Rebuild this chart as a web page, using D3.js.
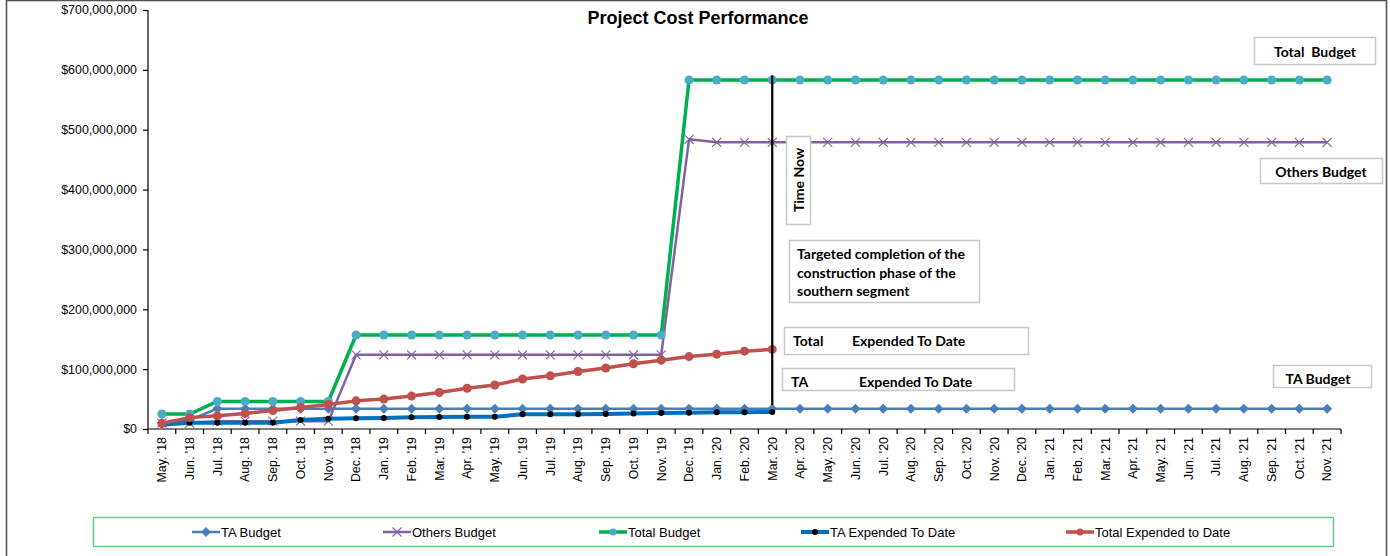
<!DOCTYPE html>
<html>
<head>
<meta charset="utf-8">
<script src="https://cdn.jsdelivr.net/npm/d3@7"></script>
<style>
  body { margin: 0; background: #fff; }
  svg { display: block; }
  .axis text { font-family: Arial, "Liberation Sans", sans-serif; font-size: 12.4px; fill: #000; }
  .note { font-family: Lato, "Open Sans", sans-serif; font-size: 14px; font-weight: 700; fill: #000; white-space: pre; }
</style>
</head>
<body>
<div id="chart"></div>
<script>
// month categories
const months = [
  "May. '18", "Jun. '18", "Jul. '18", "Aug. '18", "Sep. '18", "Oct. '18", "Nov. '18", "Dec. '18",
  "Jan. '19", "Feb. '19", "Mar. '19", "Apr. '19", "May. '19", "Jun. '19", "Jul. '19", "Aug. '19",
  "Sep. '19", "Oct. '19", "Nov. '19", "Dec. '19",
  "Jan. '20", "Feb. '20", "Mar. '20", "Apr. '20", "May. '20", "Jun. '20", "Jul. '20", "Aug. '20",
  "Sep. '20", "Oct. '20", "Nov. '20", "Dec. '20",
  "Jan. '21", "Feb. '21", "Mar. '21", "Apr. '21", "May. '21", "Jun. '21", "Jul. '21", "Aug. '21",
  "Sep. '21", "Oct. '21", "Nov. '21"
];

// values in millions of dollars
const taBudget = [10, 15, 34, 34, 34, 34, 34, 34, 34, 34, 34, 34, 34, 34, 34, 34, 34, 34, 34, 34,
  34, 34, 34, 34, 34, 34, 34, 34, 34, 34, 34, 34, 34, 34, 34, 34, 34, 34, 34, 34, 34, 34, 34];
const othersBudget = [10, 10, 13, 13, 13, 13, 13, 124, 124, 124, 124, 124, 124, 124, 124, 124, 124, 124, 124, 484,
  479, 479, 479, 479, 479, 479, 479, 479, 479, 479, 479, 479, 479, 479, 479, 479, 479, 479, 479, 479, 479, 479, 479];
const totalBudget = [25, 25, 46, 46, 46, 46, 46, 157, 157, 157, 157, 157, 157, 157, 157, 157, 157, 157, 157, 583,
  583, 583, 583, 583, 583, 583, 583, 583, 583, 583, 583, 583, 583, 583, 583, 583, 583, 583, 583, 583, 583, 583, 583];
const taExpended = [7, 10.5, 10.5, 10.5, 10.5, 15, 17, 18, 18.5, 19.5, 20, 20.6, 20.6, 24.5, 24.5, 24.5,
  25, 26, 26.7, 27, 28, 28, 28.4];
const totalExpended = [9.5, 19, 22, 26, 31, 36, 41, 47, 50, 55, 61, 68, 73.5, 83.5, 89, 96,
  102, 109, 115, 121, 125, 130, 133];

const yTicks = [0, 100, 200, 300, 400, 500, 600, 700];
const timeNow = "Mar. '20";

const W = 1390, H = 556;
const svg = d3.select('#chart').append('svg').attr('width', W).attr('height', H);

// outer chart frame
svg.append('rect').attr('x', 6.5).attr('y', 0.5).attr('width', 1380).attr('height', H + 10)
  .attr('fill', 'none').attr('stroke', '#555').attr('stroke-width', 1.6);

const x = d3.scaleBand().domain(months).range([148, 1341]);
const cx = m => x(m) + x.bandwidth() / 2;
const y = d3.scaleLinear().domain([0, 700]).range([429, 10]);

// title
svg.append('text').attr('x', 698).attr('y', 23.5).attr('text-anchor', 'middle')
  .style('font-family', 'Arial, "Liberation Sans", sans-serif').style('font-size', '18px')
  .style('font-weight', 'bold').text('Project Cost Performance');

// y axis
const yAxis = svg.append('g').attr('class', 'axis').attr('transform', 'translate(148,0)')
  .call(d3.axisLeft(y).tickValues(yTicks).tickSize(5).tickPadding(6)
    .tickFormat(d => d === 0 ? '$0' : '$' + d3.format(',')(d * 1e6)));
yAxis.selectAll('path, line').attr('stroke', '#000').attr('stroke-width', 1.2);
yAxis.select('.domain').attr('d', 'M0,10V429');

// x axis: labels at centres, ticks at boundaries (excel style)
const xAxis = svg.append('g').attr('class', 'axis').attr('transform', 'translate(0,429)')
  .call(d3.axisBottom(x).tickSize(0).tickPadding(8));
xAxis.select('.domain').attr('stroke', '#000').attr('stroke-width', 1.2).attr('d', 'M148,0H1341');
xAxis.selectAll('.tick text')
  .attr('transform', 'rotate(-90)')
  .attr('text-anchor', 'end')
  .attr('x', -8).attr('y', 0).attr('dy', '0.35em');
svg.append('g').selectAll('line')
  .data(months.concat(['end']))
  .join('line')
  .attr('x1', (d, i) => i < months.length ? x(d) : 1341)
  .attr('x2', (d, i) => i < months.length ? x(d) : 1341)
  .attr('y1', 429).attr('y2', 434)
  .attr('stroke', '#000').attr('stroke-width', 1.2);

// series definitions
const series = [
  { name: 'TA Budget', values: taBudget, line: '#4a7ebb', width: 2.5, marker: 'diamond', fill: '#4a7ebb' },
  { name: 'Others Budget', values: othersBudget, line: '#7f62a1', width: 2.5, marker: 'x', fill: '#7f62a1' },
  { name: 'Total Budget', values: totalBudget, line: '#00b050', width: 3.5, marker: 'circle', fill: '#4bacc6', r: 4.5 },
  { name: 'TA Expended To Date', values: taExpended, line: '#0070c0', width: 4, marker: 'circle', fill: '#000', r: 3 },
  { name: 'Total Expended to Date', values: totalExpended, line: '#c0504d', width: 3.5, marker: 'circle', fill: '#c0504d', r: 4.5 }
];

const line = d3.line().x((d, i) => cx(months[i])).y(d => y(d));

function drawMarker(g, s, px, py) {
  if (s.marker === 'diamond') {
    g.append('path').attr('d', `M${px},${py - 5}L${px + 5},${py}L${px},${py + 5}L${px - 5},${py}Z`).attr('fill', s.fill);
  } else if (s.marker === 'x') {
    g.append('path').attr('d', `M${px - 4.5},${py - 4.5}L${px + 4.5},${py + 4.5}M${px - 4.5},${py + 4.5}L${px + 4.5},${py - 4.5}`)
      .attr('stroke', s.fill).attr('stroke-width', 1.1).attr('fill', 'none');
  } else {
    g.append('circle').attr('cx', px).attr('cy', py).attr('r', s.r).attr('fill', s.fill);
  }
}

series.forEach(s => {
  const g = svg.append('g');
  g.append('path').datum(s.values).attr('d', line)
    .attr('fill', 'none').attr('stroke', s.line).attr('stroke-width', s.width).attr('stroke-linejoin', 'round');
  s.values.forEach((v, i) => drawMarker(g, s, cx(months[i]), y(v)));
});

// time now line
svg.append('line')
  .attr('x1', cx(timeNow)).attr('x2', cx(timeNow))
  .attr('y1', y(591)).attr('y2', y(40))
  .attr('stroke', '#000').attr('stroke-width', 2.2);

// annotation boxes
function box(x0, y0, w, h) {
  svg.append('rect').attr('x', x0).attr('y', y0).attr('width', w).attr('height', h)
    .attr('fill', '#fff').attr('stroke', '#c8c8c8').attr('stroke-width', 1.5);
}
function note(tx, ty, str, anchor) {
  svg.append('text').attr('class', 'note').attr('x', tx).attr('y', ty)
    .attr('text-anchor', anchor || 'start').attr('dy', '0.35em').text(str);
}

box(786.5, 136.5, 24, 88);
svg.append('text').attr('class', 'note').attr('transform', 'translate(799,180) rotate(-90)')
  .attr('text-anchor', 'middle').attr('dy', '0.35em').text('Time Now');

box(789.5, 240.5, 190, 62);
note(797, 254, 'Targeted completion of the');
note(797, 273, 'construction phase of the');
note(797, 291, 'southern segment');

box(784.5, 327.5, 244, 27);
note(793, 341, 'Total');
note(852, 341, 'Expended To Date');

box(782.5, 368.5, 232, 22);
note(791, 382, 'TA');
note(859, 382, 'Expended To Date');

box(1254.5, 37.5, 121, 27);
note(1315, 52, 'Total  Budget', 'middle');

box(1260.5, 158.5, 122, 25);
note(1321, 172, 'Others Budget', 'middle');

box(1273.5, 365.5, 98, 22);
note(1318, 379, 'TA Budget', 'middle');

// legend
svg.append('rect').attr('x', 93.5).attr('y', 517.5).attr('width', 1240).attr('height', 29)
  .attr('fill', '#fff').attr('stroke', '#5fcc8c').attr('stroke-width', 1.5);
const legendX = [192, 383, 599, 801, 1066];
series.forEach((s, i) => {
  const g = svg.append('g');
  const lx = legendX[i];
  g.append('line').attr('x1', lx).attr('x2', lx + 28).attr('y1', 532).attr('y2', 532)
    .attr('stroke', s.line).attr('stroke-width', s.width);
  const ms = Object.assign({}, s, { r: s.r ? Math.min(s.r, 3.5) : s.r });
  drawMarker(g, ms, lx + 14, 532);
  g.append('text').attr('x', lx + 29).attr('y', 532).attr('dy', '0.35em')
    .style('font-family', 'Arial, "Liberation Sans", sans-serif').style('font-size', '13px')
    .text(s.name);
});
</script>
</body>
</html>
